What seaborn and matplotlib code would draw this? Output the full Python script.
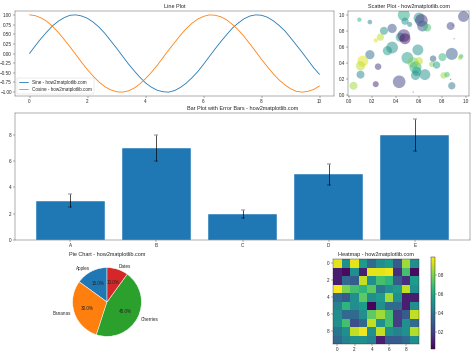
#!/usr/bin/env python3

import matplotlib

matplotlib.use("Agg")
import matplotlib.pyplot as plt
import numpy as np
import pandas as pd
import seaborn as sns

# line plot samples (step 0.2)
line_x = [round(i * 0.2, 1) for i in range(51)]
sine_y = [0.00, 0.20, 0.39, 0.56, 0.72, 0.84, 0.93, 0.99, 1.00, 0.97,
          0.91, 0.81, 0.68, 0.52, 0.33, 0.14, -0.06, -0.26, -0.44, -0.61,
          -0.76, -0.87, -0.95, -0.99, -1.00, -0.96, -0.88, -0.77, -0.63, -0.47,
          -0.28, -0.08, 0.12, 0.31, 0.49, 0.66, 0.79, 0.90, 0.97, 1.00,
          0.99, 0.94, 0.85, 0.73, 0.59, 0.41, 0.22, 0.03, -0.17, -0.37,
          -0.54]
cosine_y = [1.00, 0.98, 0.92, 0.83, 0.70, 0.54, 0.36, 0.17, -0.03, -0.23,
            -0.42, -0.59, -0.74, -0.86, -0.94, -0.99, -1.00, -0.97, -0.90, -0.79,
            -0.65, -0.49, -0.31, -0.11, 0.09, 0.28, 0.47, 0.64, 0.78, 0.89,
            0.96, 1.00, 0.99, 0.95, 0.87, 0.75, 0.61, 0.44, 0.25, 0.05,
            -0.15, -0.34, -0.52, -0.68, -0.81, -0.91, -0.98, -1.00, -0.98, -0.93,
            -0.84]

# scatter
scatter_x = [0.04, 0.09, 0.18, 0.10, 0.18, 0.12, 0.10, 0.25, 0.23, 0.23,
             0.27, 0.30, 0.37, 0.33, 0.37, 0.43, 0.44, 0.47, 0.48, 0.47,
             0.48, 0.52, 0.50, 0.55, 0.57, 0.58, 0.57, 0.59, 0.60, 0.60,
             0.62, 0.63, 0.67, 0.65, 0.55, 0.72, 0.71, 0.75, 0.80, 0.81,
             0.88, 0.88, 0.87, 0.87, 0.96, 0.95, 0.98, 0.90, 0.84, 0.89]
scatter_y = [0.11, 0.94, 0.91, 0.25, 0.50, 0.42, 0.36, 0.35, 0.13, 0.68,
             0.72, 0.80, 0.83, 0.55, 0.59, 0.16, 0.72, 0.74, 0.70, 1.00,
             0.92, 0.88, 0.46, 0.40, 0.34, 0.29, 0.24, 0.56, 0.42, 0.96,
             0.93, 0.86, 0.84, 0.25, 0.03, 0.45, 0.38, 0.37, 0.47, 0.24,
             0.51, 0.11, 0.19, 0.86, 0.48, 0.46, 0.98, 0.70, 0.25, 0.87]
scatter_c = [0.85, 0.65, 0.45, 0.45, 0.35, 0.95, 0.90, 0.15, 0.10, 0.95,
             0.90, 0.50, 0.25, 0.55, 0.50, 0.20, 0.55, 0.15, 0.05, 0.60,
             0.50, 0.45, 0.55, 0.80, 0.65, 0.55, 0.50, 0.50, 0.90, 0.50,
             0.15, 0.30, 0.70, 0.50, 0.20, 0.30, 0.80, 0.55, 0.65, 0.85,
             0.30, 0.40, 0.10, 0.20, 0.65, 0.85, 0.20, 0.30, 0.70, 0.25]
scatter_s = [300, 90, 100, 300, 400, 560, 400, 200, 170, 90,
             250, 300, 400, 400, 650, 750, 400, 750, 560, 680,
             250, 120, 650, 560, 680, 400, 400, 560, 300, 560,
             750, 560, 300, 560, 8, 200, 140, 250, 300, 200,
             680, 250, 8, 300, 90, 90, 560, 8, 140, 10]

# bars
bar_labels = ["A", "B", "C", "D", "E"]
bar_values = [3, 7, 2, 5, 8]
bar_errors = [0.5, 1.0, 0.3, 0.8, 1.2]

# pie
pie_labels = ["Apples", "Bananas", "Cherries", "Dates"]
pie_sizes = [15, 30, 45, 10]

# heatmap cells
heat_values = [
    [0.95, 0.50, 0.95, 0.55, 0.35, 0.50, 0.55, 0.30, 0.85, 0.50],
    [0.10, 0.05, 0.50, 0.10, 0.95, 0.95, 0.97, 0.15, 0.70, 0.05],
    [0.10, 0.35, 0.30, 0.90, 0.50, 0.70, 0.65, 0.30, 0.15, 0.55],
    [0.98, 0.80, 0.70, 0.65, 0.75, 0.40, 0.50, 0.55, 0.90, 0.50],
    [0.35, 0.30, 0.50, 0.75, 0.50, 0.55, 0.85, 0.50, 0.10, 0.10],
    [0.45, 0.65, 0.50, 0.55, 0.03, 0.50, 0.35, 0.35, 0.10, 0.50],
    [0.50, 0.35, 0.35, 0.50, 0.75, 0.85, 0.70, 0.20, 0.30, 0.90],
    [0.50, 0.70, 0.25, 0.35, 0.90, 0.50, 0.70, 0.20, 0.50, 0.35],
    [0.40, 0.50, 0.90, 0.97, 0.50, 0.90, 0.50, 0.45, 0.50, 0.88],
    [0.35, 0.45, 0.50, 0.50, 0.45, 0.10, 0.30, 0.30, 0.35, 0.50],
]
heat_ticks = [0, 2, 4, 6, 8]
cbar_ticks = [0.2, 0.4, 0.6, 0.8]

W, H = 474, 355


def px_rect(x0, y0, x1, y1):
    # pixel box (top-left origin) -> figure fraction rect
    return [x0 / W, 1 - y1 / H, (x1 - x0) / W, (y1 - y0) / H]


def main():
    sns.set_style("white", {"xtick.bottom": True, "ytick.left": True})
    plt.rcParams["font.family"] = ["Liberation Sans", "DejaVu Sans"]
    plt.rcParams["lines.linewidth"] = 1.8

    fsx = 14.3
    dpi = W / fsx
    fig = plt.figure(figsize=(fsx, H / dpi), dpi=dpi)

    # Line plot
    ax_line = fig.add_axes(px_rect(15, 11, 334, 96))
    sns.lineplot(x=line_x, y=sine_y, ax=ax_line, label="Sine - how2matplotlib.com")
    sns.lineplot(x=line_x, y=cosine_y, ax=ax_line, label="Cosine - how2matplotlib.com")
    ax_line.set_title("Line Plot")
    ax_line.legend(loc="lower left")

    # Scatter plot
    ax_sc = fig.add_axes(px_rect(348, 11, 469, 96))
    sdf = pd.DataFrame({"x": scatter_x, "y": scatter_y, "c": scatter_c, "s": scatter_s})
    sns.scatterplot(
        data=sdf, x="x", y="y", hue="c", size="s",
        palette="viridis", hue_norm=(0, 1),
        sizes=(0, 1000), size_norm=(0, 1000),
        alpha=0.5, linewidth=0, legend=False, ax=ax_sc,
    )
    ax_sc.set_xlabel("")
    ax_sc.set_ylabel("")
    ax_sc.set_title("Scatter Plot - how2matplotlib.com")

    # Bar plot with error bars
    ax_bar = fig.add_axes(px_rect(15, 113, 470, 240))
    sns.barplot(x=bar_labels, y=bar_values, color="tab:blue", saturation=1,
                errorbar=None, ax=ax_bar)
    ax_bar.errorbar(x=np.arange(len(bar_labels)), y=bar_values, yerr=bar_errors,
                    fmt="none", ecolor="black", capsize=5, elinewidth=1.5)
    ax_bar.set_xlim(-0.64, 4.64)
    ax_bar.set_ylim(0, 9.66)
    ax_bar.set_title("Bar Plot with Error Bars - how2matplotlib.com")

    # Pie chart
    ax_pie = fig.add_axes(px_rect(64, 259, 150, 345))
    ax_pie.pie(pie_sizes, labels=pie_labels, autopct="%1.1f%%", startangle=90)
    ax_pie.set_title("Pie Chart - how2matplotlib.com")

    # Heatmap
    ax_hm = fig.add_axes(px_rect(333, 259, 419, 344))
    cax = fig.add_axes(px_rect(431, 257, 435, 349))
    data = np.array(heat_values)
    sns.heatmap(data, cmap="viridis", ax=ax_hm, cbar_ax=cax,
                vmin=data.min() - 0.01, vmax=data.max() + 0.01)
    ax_hm.set_xticks([t + 0.5 for t in heat_ticks], labels=heat_ticks, rotation=0)
    ax_hm.set_yticks([t + 0.5 for t in heat_ticks], labels=heat_ticks, rotation=0)
    for side in ax_hm.spines.values():
        side.set_visible(True)
    ax_hm.set_title("Heatmap - how2matplotlib.com")
    cbar = ax_hm.collections[0].colorbar
    cbar.set_ticks(cbar_ticks)
    cbar.outline.set_linewidth(1)
    cbar.ax.tick_params(right=True, length=3.5)

    fig.savefig("out.png", dpi=dpi)


if __name__ == "__main__":
    main()
